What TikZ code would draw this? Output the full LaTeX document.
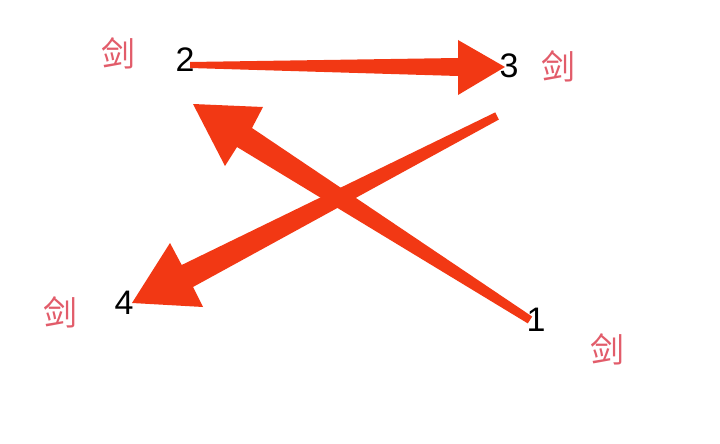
\documentclass[tikz,border=0pt]{standalone}
\usepackage{fontspec}
\setmainfont{Liberation Sans}
\newfontfamily\cjk{Noto Sans CJK SC}
\definecolor{arrowred}{RGB}{242,56,20}
\definecolor{jianred}{RGB}{226,92,106}
\begin{document}
\begin{tikzpicture}[x=1pt,y=-1pt,
  num/.style={font=\fontsize{34}{34}\selectfont, text=black, inner sep=0pt},
  jian/.style={font=\cjk\fontsize{34}{34}\selectfont, text=jianred, inner sep=0pt},
  arr/.style={fill=arrowred, draw=none}]
\useasboundingbox (0,0) rectangle (720,444);
\fill[white] (0,0) rectangle (720,444);
% arrows (tapered shafts)
\fill[arr] (190,62) -- (458,58) -- (458,40) -- (505,67) -- (458,95) -- (458,76) -- (190,68) -- cycle;
\fill[arr] (532.2,316.6) -- (252,128) -- (263,107) -- (193,104) -- (225,166) -- (237,147) -- (527.8,323.4) -- cycle;
\fill[arr] (495.2,112.4) -- (181.7,265) -- (170,243) -- (132,303) -- (203,307) -- (193,287) -- (498.8,119.6) -- cycle;
% numbers
\node[num] (n2) at (185,60) {2};
\node[num] (n3) at (509,66) {3};
\node[num] (n4) at (124,303) {4};
\node[num] (n1) at (536,320) {1};
% labels
\node[jian] (j2) at (118,53) {剑};
\node[jian] (j3) at (558,66) {剑};
\node[jian] (j4) at (60,312) {剑};
\node[jian] (j1) at (607,349) {剑};
\end{tikzpicture}
\end{document}
